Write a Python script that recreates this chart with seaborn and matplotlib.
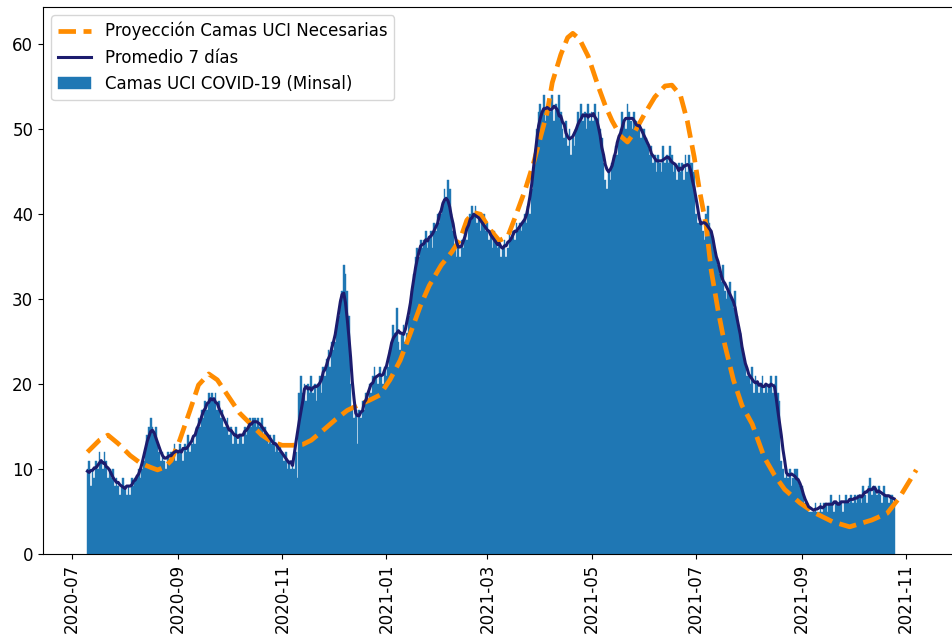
import matplotlib
matplotlib.use("Agg")
import matplotlib.pyplot as plt
import matplotlib.dates as mdates
import seaborn as sns
import pandas as pd
import numpy as np

# ---- Daily ICU beds (Minsal), month by month ----
camas_2020_07 = [10,11,8,10,9,11,10,12,11,10,12,11,9,10,9,10,8,9,8,7,8,9]  # from Jul 10
camas_2020_08 = [8,7,8,7,9,8,9, 9,10,9,10,11,12, 14,15,16,15,14,15,13, 12,11,12,11,10,12,11, 12,12,13,11]
camas_2020_09 = [12,13,12,11,13,12,14, 12,13,14,13,15,16,15, 17,16,18,17,19,18,19, 18,19,17,18,16,17,15, 15,16]
camas_2020_10 = [14,15,13,14,15,13,14, 14,13,15,14,15,16,15, 16,16,15,16,15,16,14, 15,14,13,14,13,14,12, 13,12,13]
camas_2020_11 = [12,11,12,10,11,10,11, 10,12,9, 19,21,19,20,18,20,19, 21,19,20,18,20,21,19, 22,21,23,24,22,25]
camas_2020_12 = [24,25,27,28,30,31,34, 33,31,28,20,17,16,17, 13,17,16,18,17,19,18, 20,19,21,22,21,20,22, 21,20,22]
camas_2021_01 = [21,22,24,25,27,26,29, 25,24,26,27,25,26,28, 29,31,33,35,36,35,37, 36,37,38,36,37,38,36, 39,38,40]
camas_2021_02 = [39,40,41,43,42,44,43, 40,38,36,35,36,35,37, 36,38,37,39,40,41,40, 41,39,40,38,39,40,38]
camas_2021_03 = [39,37,38,36,38,37,36, 37,35,36,37,35,36,38, 37,38,37,39,38,39,38, 39,40,39,41,40,43,45, 47,50,52]
camas_2021_04 = [53,52,54,51,52,53,52, 54,51,53,52,54,52,50, 49,51,48,50,47,49,48, 50,52,51,53,51,52,50, 53,51]
camas_2021_05 = [52,51,53,51,52,50,49, 46,44,43,45,44,46,47, 48,47,49,50,52,51,50, 53,52,51,50,52,51,50, 51,49,50]
camas_2021_06 = [50,49,48,47,48,46,47, 45,47,46,45,48,46,47, 46,48,47,45,46,44,46, 45,46,44,47,45,47,46, 46,45]
camas_2021_07 = [40,39,39,39,38,37,40, 41,39,38,37,36,35,34, 33,32,34,31,30,31,32, 30,29,31,28,27,26,24, 23,22,21]
camas_2021_08 = [21,20,22,19,21,20,19, 20,21,19,20,19,20,21, 19,20,21,19,18,11,10, 9,10,9,10,8,9,10, 10,9,8]
camas_2021_09 = [8,7,6,6,5,5,5, 5,6,5,5,6,5,6, 6,5,6,7,6,5,6, 6,7,6,5,6,7,6, 6,7]
camas_2021_10 = [6,7,6,7,7,6,8, 7,6,8,9,7,8,8, 7,8,7,6,8,7,7, 6,7,7,6]

month_starts = ["2020-07-10", "2020-08-01", "2020-09-01", "2020-10-01", "2020-11-01",
                "2020-12-01", "2021-01-01", "2021-02-01", "2021-03-01", "2021-04-01",
                "2021-05-01", "2021-06-01", "2021-07-01", "2021-08-01", "2021-09-01",
                "2021-10-01"]
month_values = [camas_2020_07, camas_2020_08, camas_2020_09, camas_2020_10, camas_2020_11,
                camas_2020_12, camas_2021_01, camas_2021_02, camas_2021_03, camas_2021_04,
                camas_2021_05, camas_2021_06, camas_2021_07, camas_2021_08, camas_2021_09,
                camas_2021_10]

# ---- Projection of required ICU beds ----
proy_fechas = ["2020-07-10","2020-07-17","2020-07-22","2020-07-28","2020-08-04","2020-08-10",
               "2020-08-16","2020-08-20","2020-08-24","2020-08-28","2020-09-02","2020-09-08",
               "2020-09-13","2020-09-19","2020-09-24","2020-09-30","2020-10-07","2020-10-14",
               "2020-10-20","2020-10-26","2020-11-01","2020-11-07","2020-11-13","2020-11-18",
               "2020-11-24","2020-12-02","2020-12-09","2020-12-15","2020-12-22","2020-12-28",
               "2021-01-03","2021-01-09","2021-01-15","2021-01-21","2021-01-26","2021-02-02",
               "2021-02-08","2021-02-13","2021-02-17","2021-02-21","2021-02-25","2021-03-03",
               "2021-03-08","2021-03-13","2021-03-17","2021-03-23","2021-03-28","2021-04-01",
               "2021-04-05","2021-04-08","2021-04-13","2021-04-17","2021-04-20","2021-04-24",
               "2021-04-29","2021-05-05","2021-05-09","2021-05-13","2021-05-18","2021-05-22",
               "2021-05-26","2021-06-01","2021-06-07","2021-06-13","2021-06-17","2021-06-22",
               "2021-06-26","2021-06-30","2021-07-03","2021-07-07","2021-07-10","2021-07-14",
               "2021-07-18","2021-07-23","2021-07-28","2021-08-03","2021-08-10","2021-08-16",
               "2021-08-22","2021-08-31","2021-09-08","2021-09-19","2021-09-29","2021-10-12",
               "2021-10-21","2021-10-28","2021-11-07"]
proy_valores = [12.0, 13.4, 14.0, 13.0, 11.6, 10.7,
                10.2, 9.9, 10.2, 11.0, 13.4, 16.9,
                19.9, 21.2, 20.5, 18.7, 16.6, 15.2,
                14.0, 13.2, 12.8, 12.8, 12.9, 13.4,
                14.4, 15.8, 16.9, 17.5, 18.1, 18.7,
                20.5, 22.8, 26.0, 29.3, 31.6, 34.0,
                35.5, 37.0, 39.3, 40.2, 40.0, 38.1,
                36.9, 37.4, 39.5, 42.8, 46.0, 49.0,
                52.0, 55.5, 58.8, 60.8, 61.3, 60.6,
                58.6, 55.0, 52.8, 51.0, 49.2, 48.5,
                49.6, 51.8, 53.8, 55.1, 55.2, 54.0,
                51.0, 46.8, 43.0, 38.7, 33.4, 28.7,
                24.6, 20.5, 17.5, 15.3, 11.4, 9.3,
                7.6, 6.0, 4.9, 3.8, 3.2, 4.0,
                4.8, 6.6, 9.9]

# ---- Build tables ----
frames = []
for start, vals in zip(month_starts, month_values):
    frames.append(pd.DataFrame({"fecha": pd.date_range(start, periods=len(vals), freq="D"),
                                "camas": vals}))
df = pd.concat(frames, ignore_index=True)
df["promedio"] = df["camas"].rolling(7, center=True, min_periods=1).mean()

proy = pd.DataFrame({"fecha": pd.to_datetime(proy_fechas), "valor": proy_valores})

# ---- Plot ----
fig = plt.figure(figsize=(9.53, 6.38), dpi=100)
ax = fig.add_axes([43 / 953, 84 / 638, 916 / 953, 547 / 638])

sns.lineplot(data=proy, x="fecha", y="valor", ax=ax, color="darkorange",
             linewidth=3.4, linestyle="--", label="Proyección Camas UCI Necesarias")
sns.lineplot(data=df, x="fecha", y="promedio", ax=ax, color="#1c1c6e",
             linewidth=2.2, label="Promedio 7 días")
ax.bar(df["fecha"], df["camas"], width=1.0, color="#1f77b4",
       edgecolor="#1f77b4", linewidth=0.3, label="Camas UCI COVID-19 (Minsal)")

ax.set_xlim(pd.Timestamp("2020-06-14"), pd.Timestamp("2021-12-02"))
ax.set_ylim(0, 64.4)
ax.set_xlabel("")
ax.set_ylabel("")
ax.xaxis.set_major_locator(mdates.MonthLocator(bymonth=[1, 3, 5, 7, 9, 11]))
ax.xaxis.set_major_formatter(mdates.DateFormatter("%Y-%m"))
ax.tick_params(axis="x", labelrotation=90, labelsize=12)
ax.tick_params(axis="y", labelsize=12)
ax.set_yticks([0, 10, 20, 30, 40, 50, 60])
ax.spines["right"].set_visible(False)

ax.legend(loc="upper left", fontsize=12)

fig.savefig("out.png", dpi=100)
